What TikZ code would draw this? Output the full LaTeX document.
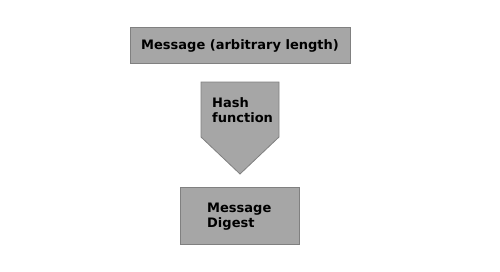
\documentclass[tikz,border=0pt]{standalone}
\usepackage{fontspec}
\setmainfont{DejaVu Sans}
\tikzset{
  graybox/.style={draw=black!50, fill=black!35, line width=0.8pt},
  lbl/.style={font=\bfseries\fontsize{13}{15.5}\selectfont, align=left, inner sep=0pt, text=black}
}
\begin{document}
\begin{tikzpicture}[x=1pt,y=-1pt]
\useasboundingbox (0,0) rectangle (500,271);
\node[graybox, minimum width=220pt, minimum height=36pt, inner sep=0pt] (msg) at (240,45) {};
\node[lbl] (msgt) at (240,45.5) {Message (arbitrary length)};
\draw[graybox] (201,82) -- (279,82) -- (279,137) -- (240,174) -- (201,137) -- cycle;
\node[lbl, anchor=west] (hasht) at (212,110) {Hash\\function};
\node[graybox, minimum width=119pt, minimum height=57pt, inner sep=0pt] (dig) at (239.5,215.5) {};
\node[lbl, anchor=west] (digt) at (207,216.5) {Message\\Digest};
\end{tikzpicture}
\end{document}
